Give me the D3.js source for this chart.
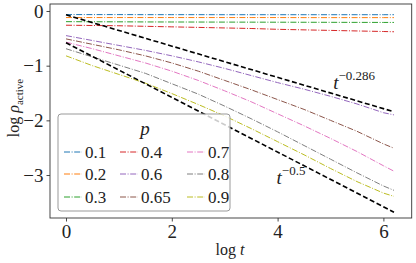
<!DOCTYPE html>
<html>
<head>
<meta charset="utf-8">
<script src="https://cdn.jsdelivr.net/npm/d3@7"></script>
<style>
  body { margin: 0; background: #fff; }
  text { font-family: "Liberation Serif", "DejaVu Serif", serif; fill: #222; }
</style>
</head>
<body>
<svg id="chart" width="416" height="263"></svg>
<script>
// log t sample points shared by all series
var logT = [0, 0.5, 1, 1.5, 2, 2.5, 3, 3.5, 4, 4.5, 5, 5.5, 6, 6.2];

var pLabels = ["0.1", "0.2", "0.3", "0.4", "0.6", "0.65", "0.7", "0.8", "0.9"];
var colors = ["#1f77b4", "#ff7f0e", "#2ca02c", "#d62728", "#9467bd",
  "#8c564b", "#e377c2", "#7f7f7f", "#bcbd22"];

var p01 = [-0.065, -0.066, -0.066, -0.067, -0.067, -0.067, -0.068, -0.068, -0.068, -0.068, -0.068, -0.068, -0.068, -0.068];
var p02 = [-0.12, -0.12, -0.12, -0.12, -0.12, -0.12, -0.12, -0.12, -0.12, -0.121, -0.121, -0.121, -0.121, -0.121];
var p03 = [-0.195, -0.197, -0.198, -0.2, -0.201, -0.202, -0.203, -0.204, -0.205, -0.206, -0.207, -0.208, -0.209, -0.209];
var p04 = [-0.26, -0.265, -0.27, -0.28, -0.29, -0.30, -0.31, -0.32, -0.335, -0.345, -0.355, -0.365, -0.375, -0.38];
var p06 = [-0.45, -0.54, -0.63, -0.72, -0.82, -0.93, -1.05, -1.18, -1.31, -1.43, -1.56, -1.70, -1.86, -1.90];
var p065 = [-0.51, -0.61, -0.71, -0.82, -0.95, -1.10, -1.27, -1.44, -1.62, -1.80, -2.0, -2.2, -2.43, -2.51];
var p07 = [-0.57, -0.69, -0.82, -0.95, -1.10, -1.27, -1.46, -1.66, -1.88, -2.10, -2.33, -2.57, -2.83, -2.93];
var p08 = [-0.69, -0.84, -0.99, -1.14, -1.33, -1.52, -1.74, -1.97, -2.21, -2.46, -2.71, -2.96, -3.20, -3.28];
var p09 = [-0.82, -1.0, -1.16, -1.32, -1.51, -1.71, -1.92, -2.15, -2.39, -2.63, -2.88, -3.12, -3.33, -3.39];
var seriesValues = [p01, p02, p03, p04, p06, p065, p07, p08, p09];

// reference power laws: exponent and offset
var fitExponents = [-0.286, -0.5];
var fitOffsets = [-0.07, -0.58];
var fitRange = [0, 6.2];

var xTicks = [0, 2, 4, 6];
var yTicks = [0, -1, -2, -3];

var svg = d3.select("#chart");
var mLeft = 50, mRight = 411.7, mTop = 4, mBottom = 218;

var x = d3.scaleLinear().domain([-0.3025, 6.535]).range([mLeft, mRight]);
var y = d3.scaleLinear().domain([-3.786, 0.128]).range([mBottom, mTop]);

var line = d3.line()
  .x(function (d) { return x(d[0]); })
  .y(function (d) { return y(d[1]); });

// data curves
seriesValues.forEach(function (vals, i) {
  svg.append("path")
    .datum(logT.map(function (t, j) { return [t, vals[j]]; }))
    .attr("d", line)
    .attr("fill", "none")
    .attr("stroke", colors[i])
    .attr("stroke-width", 1)
    .attr("stroke-dasharray", "6,1.6,1,1.6");
});

// power law guides
fitExponents.forEach(function (a, i) {
  svg.append("path")
    .datum(fitRange.map(function (t) { return [t, fitOffsets[i] + a * t]; }))
    .attr("d", line)
    .attr("fill", "none")
    .attr("stroke", "#000")
    .attr("stroke-width", 1.6)
    .attr("stroke-dasharray", "5,2.6");
});

function powerLabel(px, py, exp) {
  var t = svg.append("text").attr("x", px).attr("y", py).attr("font-size", 19);
  t.append("tspan").attr("font-style", "italic").text("t");
  t.append("tspan").attr("dy", -9).attr("font-size", 13).text("−" + exp);
}
powerLabel(x(5.05), y(-1.42), "0.286");
powerLabel(x(3.98), y(-3.17), "0.5");

// axes
var xAxis = svg.append("g")
  .attr("transform", "translate(0," + mBottom + ")")
  .call(d3.axisBottom(x).tickValues(xTicks).tickSize(3.5).tickPadding(3).tickFormat(d3.format("d")));
var yAxis = svg.append("g")
  .attr("transform", "translate(" + mLeft + ",0)")
  .call(d3.axisLeft(y).tickValues(yTicks).tickSize(3.5).tickPadding(3).tickFormat(d3.format("d")));
[xAxis, yAxis].forEach(function (g) {
  g.select(".domain").remove();
  g.selectAll("line").attr("stroke", "#333").attr("stroke-width", 0.9);
  g.selectAll("text").attr("font-size", 19).attr("fill", "#222")
    .style("font-family", "'Liberation Serif', serif");
});

svg.append("rect")
  .attr("x", mLeft).attr("y", mTop)
  .attr("width", mRight - mLeft).attr("height", mBottom - mTop)
  .attr("fill", "none").attr("stroke", "#333").attr("stroke-width", 0.9);

// axis titles
var xl = svg.append("text").attr("x", 230).attr("y", 255)
  .attr("text-anchor", "middle").attr("font-size", 16);
xl.append("tspan").text("log ");
xl.append("tspan").attr("font-style", "italic").text("t");

var yl = svg.append("text")
  .attr("transform", "translate(19,108) rotate(-90)")
  .attr("text-anchor", "middle").attr("font-size", 16);
yl.append("tspan").text("log ");
yl.append("tspan").attr("font-style", "italic").text("ρ");
yl.append("tspan").attr("dy", 4).attr("font-size", 11).text("active");

// legend
var lg = svg.append("g");
lg.append("rect")
  .attr("x", 58).attr("y", 114).attr("width", 172).attr("height", 97)
  .attr("rx", 3).attr("fill", "#fff").attr("fill-opacity", 0.8)
  .attr("stroke", "#999").attr("stroke-width", 1);
lg.append("text").attr("x", 145).attr("y", 135)
  .attr("text-anchor", "middle").attr("font-size", 19).attr("font-style", "italic").text("p");
var colX = [64, 120, 187];
var rowY = [152, 174, 197];
pLabels.forEach(function (lab, i) {
  var cx = colX[Math.floor(i / 3)], cy = rowY[i % 3];
  lg.append("line")
    .attr("x1", cx).attr("x2", cx + 18).attr("y1", cy).attr("y2", cy)
    .attr("stroke", colors[i]).attr("stroke-width", 1)
    .attr("stroke-dasharray", "6,1.6,1,1.6");
  lg.append("text").attr("x", cx + 21).attr("y", cy + 6)
    .attr("font-size", 17).text(lab);
});
</script>
</body>
</html>
